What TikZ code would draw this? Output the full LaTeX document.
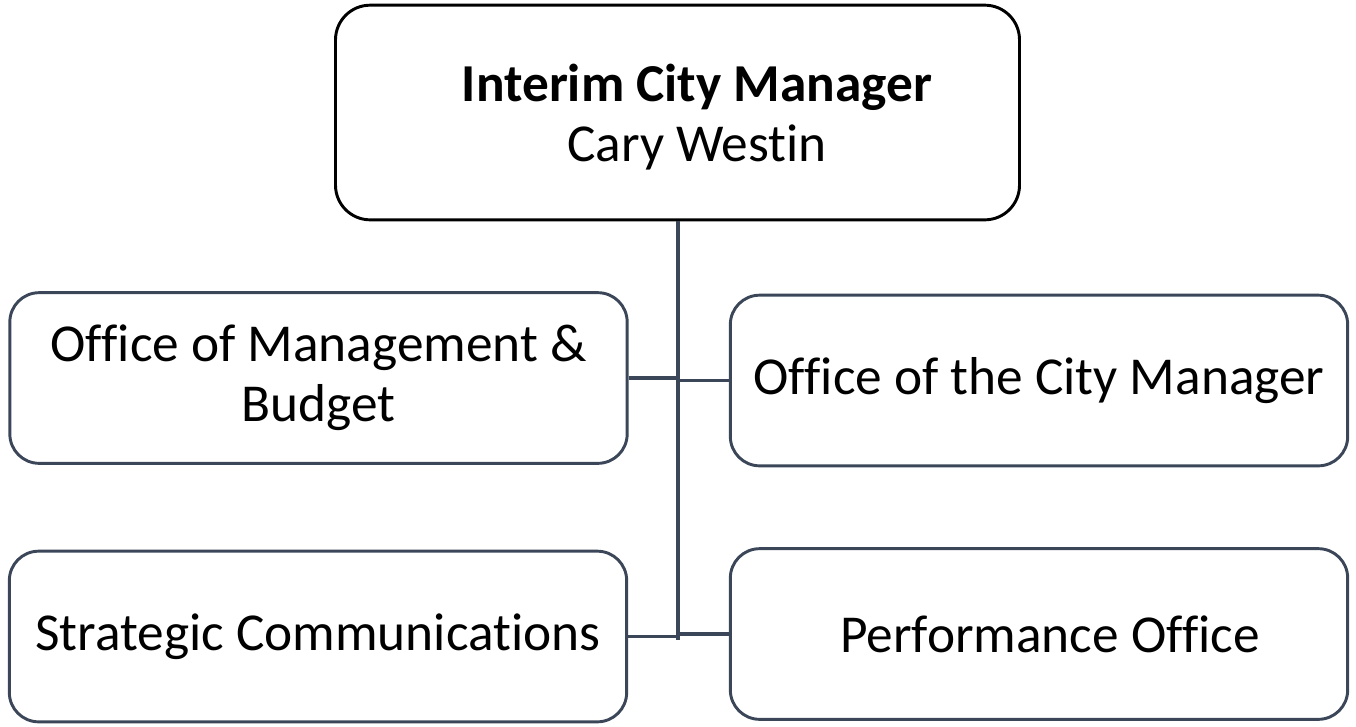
\documentclass[tikz,border=0pt]{standalone}
\usepackage{fontspec}
\setmainfont{Carlito}[Ligatures={NoCommon,NoRequired,NoContextual}]
\definecolor{slate}{HTML}{3B4759}
\begin{document}
\begin{tikzpicture}[x=0.75pt,y=-0.75pt,
  box/.style={draw=slate,line width=2.2pt,rounded corners=22pt,inner sep=0pt,
    minimum width=463pt,minimum height=128pt,align=center,
    font=\fontsize{40}{45}\selectfont},
  topbox/.style={draw=black,line width=2.2pt,rounded corners=26pt,inner sep=0pt,
    minimum width=513pt,minimum height=161pt},
  conn/.style={draw=slate,line width=2.8pt},
  txt/.style={align=center,inner sep=0pt,font=\fontsize{40}{45}\selectfont}]
\useasboundingbox (0,0) rectangle (1356,726);
\node[topbox] (top) at (677.5,112.5) {};
\node[txt] (toptxt) at (697,117) {\textbf{Interim City Manager}\\Cary Westin};
\node[box] (l1) at (318.5,378) {Office of Management \&\\Budget};
\node[box] (r1) at (1039,380.5) {Office of the City Manager};
\node[box] (l2) at (318,636.5) {Strategic Communications};
\node[box] (r2) at (1039,634) {};
\node[txt] (r2txt) at (1050,634) {Performance Office};
\coordinate (spineend) at (678,640);
\draw[conn] (top.south -| spineend) -- (spineend);
\draw[conn] (l1.east) -- (l1.east -| spineend);
\draw[conn] (r1.west) -- (r1.west -| spineend);
\draw[conn] (l2.east) -- (l2.east -| spineend);
\draw[conn] (r2.west) -- (r2.west -| spineend);
\end{tikzpicture}
\end{document}
